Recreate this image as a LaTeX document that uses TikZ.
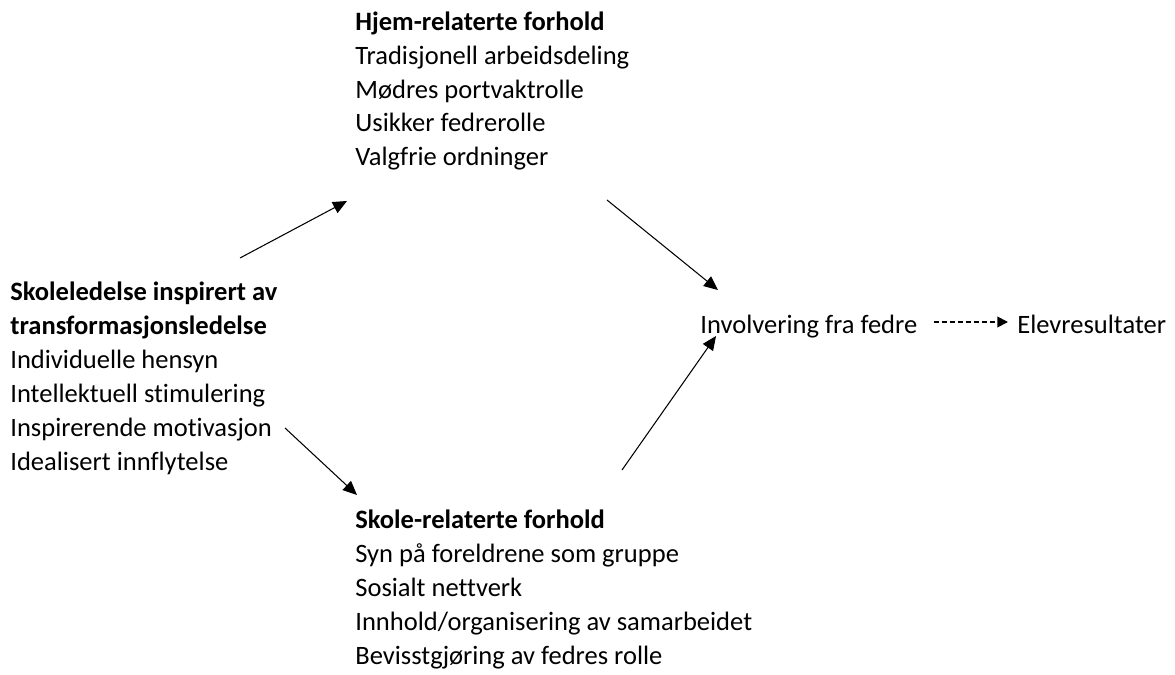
\documentclass[tikz,border=0pt]{standalone}
\usepackage{fontspec}
\setmainfont{Carlito}[Ligatures={NoCommon}]
\usepackage{tikz}
\usetikzlibrary{
  arrows.meta,
  calc}

\begin{document}
\begin{tikzpicture}[x=0.02cm, y=-0.02cm,
  tekst/.style={inner sep=0pt, anchor=base west, align=left,
    font=\fontsize{15.1}{19.35}\selectfont},
  pil/.style={line width=0.6pt, -{Triangle[length=8pt, width=7pt]}},
  stiplet/.style={line width=1pt, dash pattern=on 3pt off 1.6pt,
    -{Triangle[length=6pt, width=6pt]}}]
\useasboundingbox (0,0) rectangle (1175,675);

% base = siste linje i blokka
\node[tekst] (ledelse) at (10,470) {\textbf{Skoleledelse inspirert av}\\
  \textbf{transformasjonsledelse}\\
  Individuelle hensyn\\
  Intellektuell stimulering\\
  Inspirerende motivasjon\\
  Idealisert innflytelse};

\node[tekst] (hjem) at (355,166) {\textbf{Hjem-relaterte forhold}\\
  Tradisjonell arbeidsdeling\\
  Mødres portvaktrolle\\
  Usikker fedrerolle\\
  Valgfrie ordninger};

\node[tekst] (skole) at (355,664) {\textbf{Skole-relaterte forhold}\\
  Syn på foreldrene som gruppe\\
  Sosialt nettverk\\
  Innhold/organisering av samarbeidet\\
  Bevisstgjøring av fedres rolle};

\node[tekst] (involvering) at (700,333) {Involvering fra fedre};
\node[tekst] (elev) at (1017,333) {Elevresultater};

% piler mellom blokkene
\draw[pil] ([shift={(230,-212)}]ledelse.base west) -- ([shift={(-8,35)}]hjem.base west);
\draw[pil] ([shift={(252,34)}]hjem.base west) -- ([shift={(18,-43)}]involvering.base west);
\draw[pil] ([shift={(275,-42)}]ledelse.base west) -- ([shift={(2,-169)}]skole.base west);
\draw[pil] ([shift={(267,-194)}]skole.base west) -- ([shift={(16,3)}]involvering.base west);

\draw[stiplet] ([shift={(16,-11)}]involvering.base east) -- ([shift={(-9,-11)}]elev.base west);

\end{tikzpicture}
\end{document}
